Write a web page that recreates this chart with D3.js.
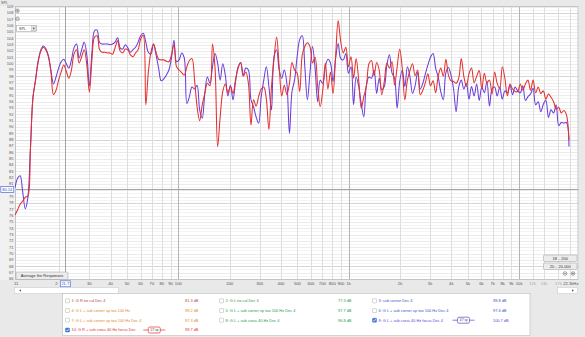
<!DOCTYPE html>
<html><head><meta charset="utf-8">
<script src="https://cdn.jsdelivr.net/npm/d3@7"></script>
<style>
html,body{margin:0;padding:0;background:#e9e9e9;}
svg{display:block;font-family:"Liberation Sans",Arial,sans-serif;}
</style></head><body>
<svg id="c" width="585" height="337"></svg>
<script>
// Frequency points (Hz), 1/20 octave spacing from 11 Hz to 20 kHz
const freqHz = [
 11.00,11.39,11.79,12.21,12.64,13.08,13.54,14.02,14.51,15.03,15.56,16.11,16.67,17.26,17.87,18.50,19.15,19.83,20.53,21.25,
 22.00,22.78,23.58,24.41,25.27,26.16,27.08,28.04,29.03,30.05,31.11,32.21,33.35,34.52,35.74,37.00,38.30,39.66,41.05,42.50,
 44.00,45.55,47.16,48.82,50.54,52.32,54.17,56.08,58.06,60.10,62.22,64.42,66.69,69.04,71.48,74.00,76.61,79.31,82.11,85.00,
 88.0,91.1,94.3,97.6,101.1,104.6,108.3,112.2,116.1,120.2,124.5,128.8,133.4,138.1,143.0,148.0,153.2,158.6,164.2,170.0,
 176,182.2,188.6,195.3,202.2,209.3,216.7,224.3,232.2,240.4,248.9,257.7,266.8,276.2,285.9,296.0,306.4,317.2,328.4,340.0,
 352,364.4,377.3,390.6,404.3,418.6,433.3,448.7,464.5,480.8,497.8,515.4,533.5,552.4,571.8,592.0,612.9,634.5,656.9,680.0,
 704,728.9,754.5,781.2,808.7,837.2,866.7,897.3,928.9,961.7,995.6,1031,1067,1105,1144,1184,1226,1269,1314,1360,
 1408,1458,1509,1562,1617,1674,1733,1795,1858,1923,1991,2061,2134,2209,2287,2368,2451,2538,2627,2720,
 2816,2915,3018,3125,3235,3349,3467,3589,3716,3847,3982,4123,4268,4419,4575,4736,4903,5076,5255,5440,
 5632,5831,6036,6249,6469,6698,6934,7179,7431,7693,7965,8246,8536,8838,9149,9472,9806,10152,10510,10881,
 11264,11662,12073,12499,12939,13395,13867,14357,14863,15387,15930,16492,17073,17676,18299,18944,19612
];

// 9: G L + sub cross 40 Hz focus Dec 4 (SPL, dB)
const splTrace9 = [
 80.4,81.9,82.3,79.7,77.1,78.8,86.4,94.7,97.4,100.4,102.1,102.8,102.4,101.3,99.0,96.8,97.9,99.3,100.3,100.7,
 100.0,99.3,100.6,102.5,103.1,100.9,102.2,103.4,101.4,96.5,101.8,105.2,105.3,103.3,103.1,103.1,103.1,103.0,103.1,103.4,
 104.1,102.5,102.3,103.0,102.5,101.8,102.2,102.6,103.4,104.4,104.8,103.4,101.8,101.5,103.1,101.4,99.3,97.3,97.6,98.2,
 99.0,100.9,103.7,100.3,100.6,101.7,100.9,93.7,94.8,96.3,96.0,96.6,92.7,91.4,95.3,97.9,96.9,99.5,101.6,100.1,
 97.4,100.0,98.2,94.9,96.6,94.3,97.2,99.5,100.2,98.2,99.3,99.0,94.3,93.2,91.6,90.6,94.8,97.4,99.5,96.4,
 92.7,101.1,102.2,99.0,97.7,99.0,96.9,89.0,95.6,97.4,101.1,103.8,104.4,99.5,94.3,98.5,102.7,99.3,94.0,97.4,
 96.9,99.5,100.7,100.1,97.2,100.8,103.2,100.8,100.6,101.6,98.5,99.5,93.5,97.9,96.4,93.7,91.6,96.6,97.9,97.7,
 99.0,95.3,97.7,95.9,96.4,99.8,101.4,98.5,97.7,93.0,97.2,99.0,96.4,99.5,97.9,95.3,96.5,98.6,96.0,96.9,
 98.4,99.8,101.0,101.6,99.3,97.9,95.6,94.3,98.6,99.4,98.2,96.0,92.4,96.3,97.4,96.0,96.9,94.4,96.4,94.9,
 96.8,94.2,96.3,95.4,97.2,93.3,96.0,96.3,94.9,96.3,94.4,95.7,95.4,96.6,95.1,96.3,95.7,95.4,96.5,94.2,
 94.8,95.2,96.1,93.5,94.0,92.4,93.6,94.2,91.5,92.7,92.2,93.5,90.2,90.7,90.6,90.7,86.9
];

// 10: G R + sub cross 40 Hz focus Dec 4 (SPL, dB)
const splTrace10 = [
 76.1,76.9,77.8,78.3,78.9,79.1,86.3,94.6,97.3,100.2,101.9,102.6,102.2,101.1,98.7,95.1,95.8,97.4,98.7,99.8,
 98.8,97.7,99.0,101.5,102.2,100.1,101.1,102.2,99.8,95.5,100.6,104.2,104.4,102.2,101.8,101.8,101.7,101.7,101.5,102.5,
 103.6,102.0,101.7,102.3,102.2,101.4,101.1,101.7,102.2,103.9,104.5,93.5,98.7,101.8,103.1,101.8,100.7,100.6,100.6,100.4,
 100.3,101.4,103.0,99.5,99.0,98.6,98.2,99.5,100.5,100.8,97.4,93.2,91.0,93.5,95.3,96.9,96.5,103.1,99.3,86.9,
 91.6,95.6,96.8,95.4,96.4,95.3,97.5,99.3,100.2,98.0,98.7,96.9,90.3,94.3,93.3,94.8,96.0,96.3,94.4,89.6,
 96.4,100.8,104.2,99.5,94.9,96.6,95.1,96.9,100.2,99.0,98.5,95.6,101.4,102.7,103.3,102.7,100.1,101.0,96.5,93.2,
 95.8,100.1,96.0,98.7,95.3,101.1,106.8,103.5,101.7,102.6,99.5,101.1,97.7,100.8,97.4,93.0,94.8,96.4,100.0,100.5,
 98.1,100.2,99.0,95.1,97.2,100.1,99.3,100.3,96.6,99.5,102.3,99.3,94.3,97.4,98.9,100.0,98.1,99.0,95.1,95.8,
 97.0,98.4,96.5,97.3,95.4,98.0,99.3,98.0,100.7,98.2,97.3,97.2,96.9,97.7,100.8,98.0,96.4,98.4,99.3,97.0,
 98.0,98.9,96.0,98.5,97.0,97.4,95.2,98.7,96.9,96.1,99.5,97.7,94.9,96.8,96.0,95.6,95.6,96.8,95.8,96.8,
 97.4,95.8,97.4,95.4,96.3,95.3,95.7,94.4,95.2,94.7,94.0,92.8,93.1,92.2,92.6,91.9,87.9
];

// Axis ticks (the 80 dB label sits under the cursor readout)
const yTickDb = [66,67,68,69,70,71,72,73,74,75,76,77,78,79,80,81,82,83,84,85,86,87,88,89,90,91,92,93,94,95,96,97,98,99,100,101,102,103,104,105,106,107,108,109];
const yMajorDb = [68,78,88,98,108];
const xTickHz = [11,30,40,50,60,70,80,90,100,200,300,400,500,600,700,800,900,1000,2000,3000,4000,5000,6000,7000,8000,9000,10000,12000,14000,17000];
const xTickText = ["11","30","40","50","60","70","80","90","100","200","300","400","500","600","700","800","900","1k","2k","3k","4k","5k","6k","7k","8k","9k","10k","12k","14k","17k"];
const xGridHz = [20,30,40,50,60,70,80,90,100,200,300,400,500,600,700,800,900,1000,2000,3000,4000,5000,6000,7000,8000,9000,10000,12000,14000,17000,20000];
const xDecadeHz = [100,1000,10000];

// Cursor readout
const cursorHz = 21.7, cursorDb = 80.14;

// Legend (measurement list)
const legendLabels = [
 "1: G R no cal Dec 4","2: G L no cal Dec 4","3: sub corner Dec 4",
 "4: G L + sub corner up too 100 Hz","5: G L + sub corner up too 100 Hz Dec 4","6: G L + sub corner up too 100 Hz Dec 4",
 "7: G L + sub corner up too 100 Hz Dec 4","8: G L + sub cross 40 Hz Dec 4","9: G L + sub cross 40 Hz focus Dec 4",
 "10: G R + sub cross 40 Hz focus Dec"];
const legendLevels = ["81.3 dB","77.3 dB","98.8 dB","99.2 dB","97.7 dB","97.6 dB","97.3 dB","96.8 dB","100.7 dB","99.7 dB"];
const legendShown = [false,false,false,false,false,false,false,false,true,true];
const traceColors = ["#c2403a","#2a9a4a","#3b57c4","#e08a2a","#2a9a4a","#3b57c4","#e08a2a","#2a9a4a","#6a3ddb","#e2302e"];

const W = 585, H = 337;
const P = {l:15, r:578.5, t:6, b:280};
const x = d3.scaleLog().domain([11, 22300]).range([P.l, P.r]);
const y = d3.scaleLinear().domain([65.83, 109.11]).range([P.b, P.t]);
const svg = d3.select('#c');

svg.append('rect').attr('width', W).attr('height', H).attr('fill', '#e9e9e9');
svg.append('rect').attr('x', 0).attr('y', P.t).attr('width', P.l).attr('height', P.b - P.t).attr('fill', '#f1f1f1');
svg.append('rect').attr('x', P.l).attr('y', P.t).attr('width', P.r - P.l).attr('height', P.b - P.t).attr('fill', '#fff');

// horizontal grid: half-dB, dB and 10 dB lines
const grid = svg.append('g').attr('shape-rendering', 'crispEdges');
const halfLines = d3.range(66.5, 109.1, 1);
grid.selectAll('.h5').data(halfLines).join('line')
  .attr('x1', P.l).attr('x2', P.r).attr('y1', d => Math.round(y(d)) + 0.5).attr('y2', d => Math.round(y(d)) + 0.5)
  .attr('stroke', '#f4f4f4');
grid.selectAll('.h1').data(yTickDb).join('line')
  .attr('x1', P.l).attr('x2', P.r).attr('y1', d => Math.round(y(d)) + 0.5).attr('y2', d => Math.round(y(d)) + 0.5)
  .attr('stroke', d => yMajorDb.includes(d) ? '#d6d6d6' : '#ebebeb');
grid.selectAll('.v').data(xGridHz).join('line')
  .attr('y1', P.t).attr('y2', P.b).attr('x1', d => Math.round(x(d)) + 0.5).attr('x2', d => Math.round(x(d)) + 0.5)
  .attr('stroke', d => xDecadeHz.includes(d) ? '#b4b4b4' : '#dedede');

// cursor crosshair
grid.append('line').attr('x1', P.l).attr('x2', P.r)
  .attr('y1', Math.round(y(cursorDb)) + 0.5).attr('y2', Math.round(y(cursorDb)) + 0.5).attr('stroke', '#a4a4a4');
grid.append('line').attr('y1', P.t).attr('y2', P.b)
  .attr('x1', Math.round(x(cursorHz)) + 0.5).attr('x2', Math.round(x(cursorHz)) + 0.5).attr('stroke', '#a4a4a4');

// plot frame
svg.append('rect').attr('x', P.l + 0.5).attr('y', P.t + 0.5).attr('width', P.r - P.l - 1).attr('height', P.b - P.t - 1)
  .attr('fill', 'none').attr('stroke', '#c4c4c4');

// traces
svg.append('clipPath').attr('id', 'pc').append('rect')
  .attr('x', P.l).attr('y', P.t).attr('width', P.r - P.l).attr('height', P.b - P.t);
const line = d3.line().x(d => x(d[0])).y(d => y(d[1])).curve(d3.curveCatmullRom.alpha(0.5));
const traces = [
  {vals: splTrace9, color: traceColors[8]},
  {vals: splTrace10, color: traceColors[9]}
];
const tg = svg.append('g').attr('clip-path', 'url(#pc)');
traces.forEach(t => {
  tg.append('path').datum(freqHz.map((f, i) => [f, t.vals[i]]))
    .attr('d', line).attr('fill', 'none').attr('stroke', t.color)
    .attr('stroke-width', 1.05).attr('stroke-linejoin', 'round');
});

// y axis labels
svg.append('text').attr('x', 1).attr('y', 4).attr('font-size', 3.6).attr('fill', '#555').text('SPL');
svg.selectAll('.yl').data(yTickDb.filter(d => Math.abs(d - cursorDb) > 0.6)).join('text')
  .attr('x', 13.5).attr('y', d => y(d) + 1.4).attr('text-anchor', 'end')
  .attr('font-size', 4).attr('fill', '#555').text(d => d);

// x axis labels
svg.selectAll('.xl').data(xTickHz).join('text')
  .attr('x', d => d === 11 ? x(d) - 1 : x(d)).attr('y', 285)
  .attr('text-anchor', d => d === 11 ? 'start' : 'middle')
  .attr('font-size', 4.2).attr('fill', d => d > 10000 ? '#aaa' : '#555')
  .text((d, i) => xTickText[i]);
svg.append('text').attr('x', P.r).attr('y', 285).attr('text-anchor', 'end')
  .attr('font-size', 4.2).attr('fill', '#555').text('22.3kHz');

// cursor value boxes
function valueBox(cx, cy, w, txt) {
  const g = svg.append('g');
  g.append('rect').attr('x', cx - w / 2).attr('y', cy - 3).attr('width', w).attr('height', 6)
    .attr('fill', '#fff').attr('stroke', '#4a6ad8').attr('stroke-width', 0.7);
  g.append('text').attr('x', cx).attr('y', cy + 1.5).attr('text-anchor', 'middle')
    .attr('font-size', 4).attr('fill', '#3050c8').text(txt);
}
// the 20 Hz label peeks out from under the frequency readout
svg.append('text').attr('x', x(20) - 1.6).attr('y', 285).attr('text-anchor', 'end')
  .attr('font-size', 4.2).attr('fill', '#555').text('2');
valueBox(7.3, y(cursorDb), 13, cursorDb.toFixed(2));
valueBox(x(cursorHz), 283.8, 10, String(cursorHz));

// zoom controls and view selector
function roundIcon(cx, cy, plus) {
  const g = svg.append('g').attr('stroke', '#555').attr('stroke-width', 0.5).attr('fill', 'none');
  g.append('circle').attr('cx', cx).attr('cy', cy).attr('r', 1.8);
  g.append('line').attr('x1', cx - 1.1).attr('x2', cx + 1.1).attr('y1', cy).attr('y2', cy);
  if (plus) g.append('line').attr('x1', cx).attr('x2', cx).attr('y1', cy - 1.1).attr('y2', cy + 1.1);
}
roundIcon(17.5, 10.7, true);
roundIcon(17.5, 18.8, false);
roundIcon(565, 273.5, false);
roundIcon(573, 273.5, true);
svg.append('rect').attr('x', 16.5).attr('y', 25.3).attr('width', 20).attr('height', 6)
  .attr('fill', '#fff').attr('stroke', '#999').attr('stroke-width', 0.5);
svg.append('rect').attr('x', 31.5).attr('y', 25.8).attr('width', 4.5).attr('height', 5)
  .attr('fill', '#e4e4e4').attr('stroke', '#aaa').attr('stroke-width', 0.4);
svg.append('path').attr('d', 'M32.7,27.8 L34.8,27.8 L33.75,29.4 Z').attr('fill', '#444');
svg.append('text').attr('x', 19).attr('y', 29.8).attr('font-size', 3.6).attr('fill', '#333').text('SPL');

// buttons
function button(x0, y0, w, h, txt) {
  svg.append('rect').attr('x', x0).attr('y', y0).attr('width', w).attr('height', h).attr('rx', 1)
    .attr('fill', '#ececec').attr('stroke', '#9c9c9c').attr('stroke-width', 0.5);
  svg.append('text').attr('x', x0 + w / 2).attr('y', y0 + h / 2 + 1.4).attr('text-anchor', 'middle')
    .attr('font-size', 4).attr('fill', '#333').text(txt);
}
button(16, 272, 52, 7.5, 'Average the Responses');
button(543.5, 255, 33.5, 6.5, '18 .. 200');
button(543.5, 263, 33.5, 6.5, '20 .. 20,000');

// scroll bar
svg.append('rect').attr('x', 14.5).attr('y', 287.5).attr('width', 104).attr('height', 6)
  .attr('fill', '#fff').attr('stroke', '#c4c4c4').attr('stroke-width', 0.5);
svg.append('path').attr('d', 'M19,290.5 L21,289.3 L21,291.7 Z').attr('fill', '#666');
svg.append('rect').attr('x', 557.5).attr('y', 287.5).attr('width', 20).attr('height', 6)
  .attr('fill', '#fff').attr('stroke', '#c4c4c4').attr('stroke-width', 0.5);
svg.append('path').attr('d', 'M574,290.5 L572,289.3 L572,291.7 Z').attr('fill', '#666');

// legend panel
svg.append('rect').attr('x', 62.5).attr('y', 293.5).attr('width', 467.5).attr('height', 42)
  .attr('fill', '#fff').attr('stroke', '#bcbcbc').attr('stroke-width', 0.6);
const colX = [65.5, 219.5, 372.5];
const valX = [185, 338, 493];
const rowY = [300.8, 310.6, 320.2, 330.0];
legendLabels.forEach((lab, i) => {
  const r = Math.floor(i / 3), c = i % 3;
  const cy = rowY[r], c0 = colX[c];
  const col = traceColors[i];
  svg.append('rect').attr('x', c0).attr('y', cy - 2).attr('width', 4).attr('height', 4).attr('rx', 0.5)
    .attr('fill', legendShown[i] ? '#3f7fe0' : '#fff').attr('stroke', legendShown[i] ? '#2a5cb8' : '#999').attr('stroke-width', 0.4);
  if (legendShown[i]) {
    svg.append('path').attr('d', `M${c0 + 0.9},${cy} L${c0 + 1.8},${cy + 1.1} L${c0 + 3.2},${cy - 1.2}`)
      .attr('fill', 'none').attr('stroke', '#fff').attr('stroke-width', 0.6);
  }
  svg.append('text').attr('x', c0 + 6).attr('y', cy + 1.4).attr('font-size', 3.9).attr('fill', col).text(lab);
  svg.append('text').attr('x', valX[c]).attr('y', cy + 1.4).attr('font-size', 3.9).attr('fill', col).text(legendLevels[i]);
});
// line-style swatches for the shown traces
function swatch(x0, cy, col) {
  svg.append('line').attr('x1', x0 - 5).attr('x2', x0 + 17).attr('y1', cy).attr('y2', cy).attr('stroke', col).attr('stroke-width', 0.7);
  svg.append('rect').attr('x', x0).attr('y', cy - 3).attr('width', 12).attr('height', 6).attr('rx', 1.5)
    .attr('fill', '#fff').attr('stroke', col).attr('stroke-width', 0.7);
  svg.append('text').attr('x', x0 + 6).attr('y', cy + 1.2).attr('text-anchor', 'middle')
    .attr('font-size', 3).attr('fill', '#333').text('1/7 sp');
}
swatch(148.3, rowY[3], traceColors[9]);
swatch(457.5, rowY[2], traceColors[8]);
</script>
</body></html>
